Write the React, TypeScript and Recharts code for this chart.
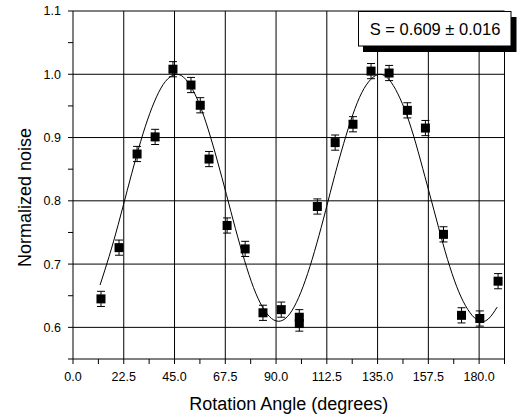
import {
  ComposedChart,
  Scatter,
  Line,
  XAxis,
  YAxis,
  ErrorBar,
  ReferenceLine,
  Label,
} from 'recharts'

// measured points
const angles = [12.4, 20.4, 28.4, 36.4, 44.3, 52.3, 56.4, 60.3, 68.3, 76.3, 84.2, 92.3, 100.3, 100.3, 108.3, 116.2, 124.1, 132.1, 140.1, 148.2, 156.2, 164.2, 172.2, 180.3, 188.4]
const noiseValues = [0.645, 0.726, 0.874, 0.901, 1.008, 0.983, 0.951, 0.866, 0.761, 0.724, 0.623, 0.628, 0.616, 0.606, 0.791, 0.892, 0.921, 1.005, 1.002, 0.943, 0.915, 0.747, 0.619, 0.614, 0.673]
const noiseErrors = [0.012, 0.012, 0.012, 0.012, 0.012, 0.012, 0.012, 0.012, 0.012, 0.012, 0.012, 0.012, 0.012, 0.012, 0.012, 0.012, 0.012, 0.012, 0.012, 0.012, 0.012, 0.012, 0.012, 0.012, 0.012]

// fitted curve
const fitAngles = [12, 16, 20, 24, 28, 32, 36, 40, 44, 48, 52, 56, 60, 64, 68, 72, 76, 80, 84, 88, 92, 96, 100, 104, 108, 112, 116, 120, 124, 128, 132, 136, 140, 144, 148, 152, 156, 160, 164, 168, 172, 176, 180, 184, 188]
const fitValues = [0.667, 0.712, 0.762, 0.816, 0.869, 0.917, 0.956, 0.984, 0.998, 0.998, 0.982, 0.953, 0.912, 0.863, 0.810, 0.756, 0.706, 0.663, 0.632, 0.614, 0.610, 0.621, 0.647, 0.685, 0.732, 0.785, 0.840, 0.891, 0.936, 0.971, 0.992, 1.000, 0.992, 0.969, 0.935, 0.890, 0.838, 0.785, 0.732, 0.685, 0.648, 0.623, 0.610, 0.613, 0.632]

const xTicks = [0, 11.25, 22.5, 33.75, 45, 56.25, 67.5, 78.75, 90, 101.25, 112.5, 123.75, 135, 146.25, 157.5, 168.75, 180, 191.25]
const yTicks = [0.55, 0.6, 0.65, 0.7, 0.75, 0.8, 0.85, 0.9, 0.95, 1.0, 1.05, 1.1]
const xGrid = [22.5, 45, 67.5, 90, 112.5, 135, 157.5, 180]
const yGrid = [0.6, 0.7, 0.8, 0.9, 1.0]

const FONT = "'Liberation Sans', Arial, sans-serif"

const points = angles.map((a, i) => ({ angle: a, noise: noiseValues[i], err: noiseErrors[i] }))
const fit = fitAngles.map((a, i) => ({ angle: a, noise: fitValues[i] }))

const fmtX = (v: number) => (Math.round(v / 11.25) % 2 === 0 ? v.toFixed(1) : '')
const fmtY = (v: number) => (Math.round(v * 100) % 10 === 0 ? v.toFixed(1) : '')

function Square(props: any) {
  const { cx, cy } = props
  return <rect x={cx - 4.5} y={cy - 4.5} width={9} height={9} fill="#000" />
}

// stat box drawn on top of the plot area, with a solid drop shadow
function StatBox() {
  return (
    <g>
      <rect x={363} y={17} width={153.5} height={35} fill="#000" />
      <rect x={358.5} y={11.5} width={152.5} height={34.5} fill="#fff" stroke="#000" strokeWidth={1} />
      <text x={435} y={29} textAnchor="middle" dominantBaseline="central"
        style={{ fontSize: 16.5, fill: '#000', fontFamily: FONT }}>S = 0.609 ± 0.016</text>
    </g>
  )
}

export default function App() {
  const tickStyle = { fontSize: 12.5, fill: '#000', fontFamily: FONT }
  return (
    <div style={{ position: 'absolute', left: 0, top: 0, width: 528, height: 417, background: '#fff' }}>
      <ComposedChart width={528} height={417} margin={{ top: 10, right: 22.5, bottom: 0, left: 0 }}
        style={{ fontFamily: FONT }}>
        <XAxis xAxisId={0} dataKey="angle" type="number" domain={[0, 191.25]} allowDataOverflow
          ticks={xTicks} tickFormatter={fmtX} interval={0} height={58} tickSize={5} tickMargin={8}
          tick={tickStyle} axisLine={{ stroke: '#000' }} tickLine={{ stroke: '#000' }}>
          <Label value="Rotation Angle (degrees)" position="insideBottom" offset={7}
            style={{ fontSize: 18, fill: '#000', fontFamily: FONT }} />
        </XAxis>
        <XAxis xAxisId="top" orientation="top" dataKey="angle" type="number" domain={[0, 191.25]}
          allowDataOverflow ticks={xTicks} interval={0} height={1} tickSize={-5} tick={false}
          axisLine={{ stroke: '#000' }} tickLine={{ stroke: '#000' }} />
        <YAxis yAxisId={0} dataKey="noise" type="number" domain={[0.55, 1.1]} allowDataOverflow
          ticks={yTicks} tickFormatter={fmtY} interval={0} width={73} tickSize={5} tickMargin={7}
          tick={tickStyle} axisLine={{ stroke: '#000' }} tickLine={{ stroke: '#000' }}>
          <Label content={() => (
            <text x={31} y={197.5} transform="rotate(-90 31 197.5)" textAnchor="middle"
              style={{ fontSize: 18, fill: '#000', fontFamily: FONT }}>Normalized noise</text>
          )} />
        </YAxis>
        <YAxis yAxisId="right" orientation="right" dataKey="noise" type="number" domain={[0.55, 1.1]}
          allowDataOverflow ticks={yTicks} interval={0} width={1} tickSize={-5} tick={false}
          axisLine={{ stroke: '#000' }} tickLine={{ stroke: '#000' }} />

        {xGrid.map((v) => (
          <ReferenceLine key={'x' + v} x={v} stroke="#000" strokeWidth={1} />
        ))}
        {yGrid.map((v) => (
          <ReferenceLine key={'y' + v} y={v} stroke="#000" strokeWidth={1} />
        ))}

        <Line data={fit} dataKey="noise" type="natural" stroke="#000" strokeWidth={1}
          dot={false} activeDot={false} isAnimationActive={false} />
        <Scatter data={points} dataKey="noise" shape={Square} isAnimationActive={false}>
          <ErrorBar dataKey="err" direction="y" width={4} stroke="#000" strokeWidth={1} />
        </Scatter>
      </ComposedChart>
      <svg width={528} height={417} style={{ position: 'absolute', left: 0, top: 0, pointerEvents: 'none' }}>
        <StatBox />
      </svg>
    </div>
  )
}
